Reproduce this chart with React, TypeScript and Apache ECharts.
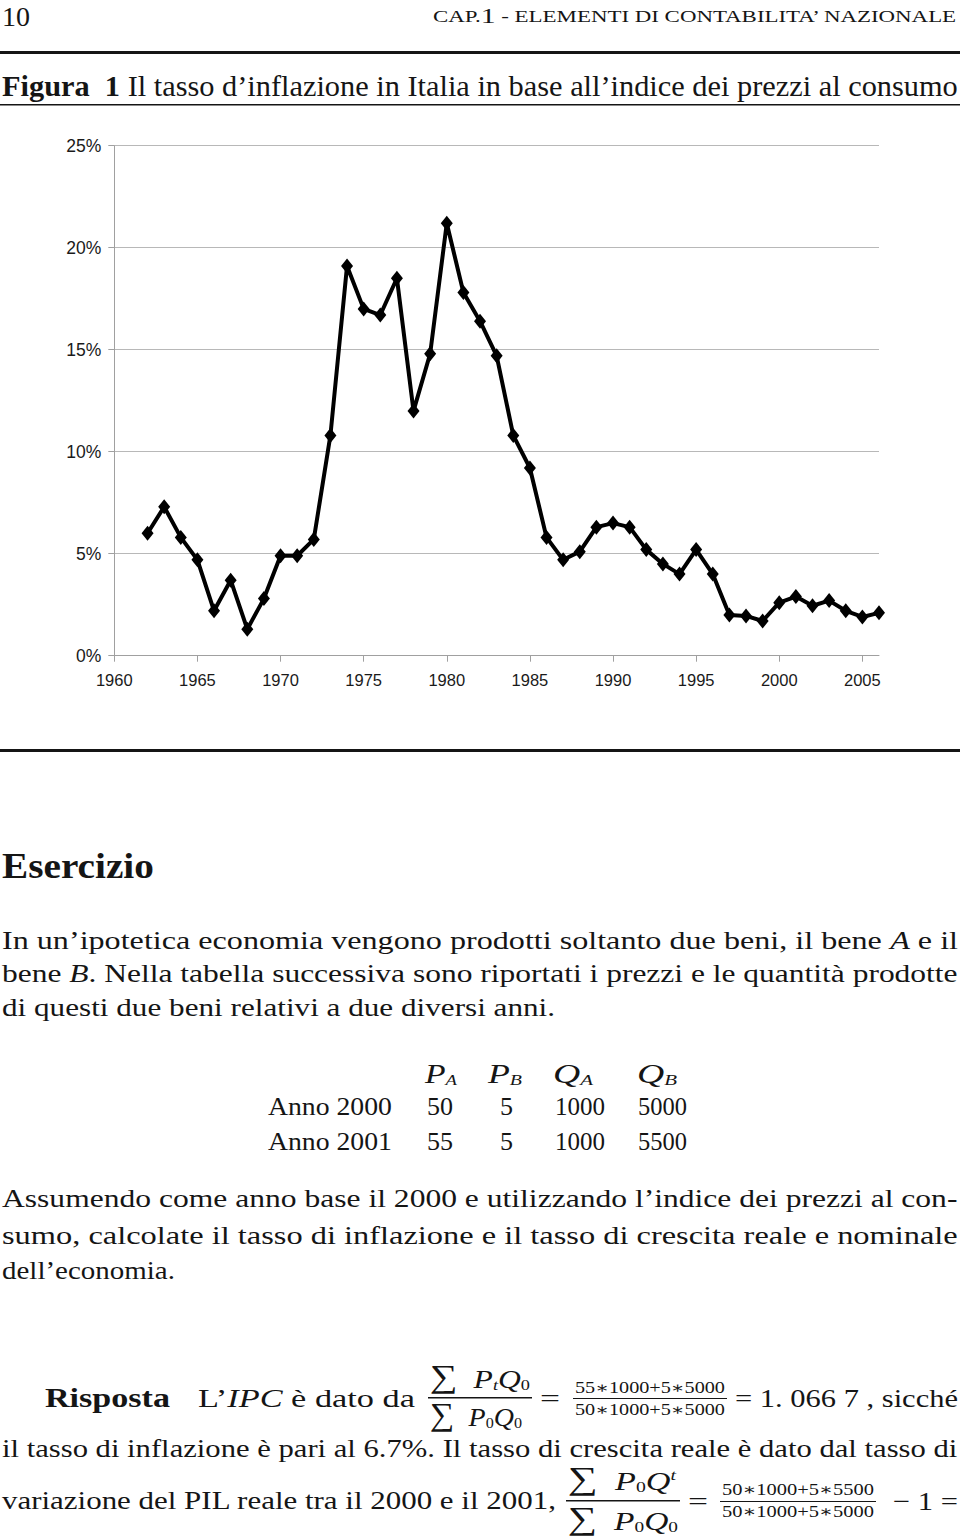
import React, { useEffect, useRef } from 'react';
import * as echarts from 'echarts';

const years = ['1960','1961','1962','1963','1964','1965','1966','1967','1968','1969','1970','1971','1972','1973','1974','1975','1976','1977','1978','1979','1980','1981','1982','1983','1984','1985','1986','1987','1988','1989','1990','1991','1992','1993','1994','1995','1996','1997','1998','1999','2000','2001','2002','2003','2004','2005','2006'];

const inflation: (number | null)[] = [null, null,
  6.0, 7.3, 5.8, 4.7, 2.2, 3.7, 1.3, 2.8, 4.9, 4.9,
  5.7, 10.8, 19.1, 17.0, 16.7, 18.5, 12.0, 14.8, 21.2, 17.8,
  16.4, 14.7, 10.8, 9.2, 5.8, 4.7, 5.1, 6.3, 6.5, 6.3,
  5.2, 4.5, 4.0, 5.2, 4.0, 2.0, 1.95, 1.7, 2.6, 2.9,
  2.45, 2.7, 2.2, 1.9, 2.1];

const yMin = 0;
const yMax = 25;
const yStep = 5;

const SERIF = '"Liberation Serif", "DejaVu Serif", serif';
const SANS = '"Liberation Sans", Arial, sans-serif';
const INK = '#151515';

type Seg = { t: string; b?: boolean; i?: boolean; s?: number; dy?: number };

let ctx: CanvasRenderingContext2D | null = null;
function measure(text: string, size: number, b?: boolean, i?: boolean) {
  if (!ctx) ctx = document.createElement('canvas').getContext('2d');
  if (!ctx) return text.length * size * 0.5;
  ctx.font = `${i ? 'italic ' : ''}${b ? 'bold ' : ''}${size}px ${SERIF}`;
  return ctx.measureText(text).width;
}

function line(x: number, y: number, size: number, segs: Seg[], width?: number): any {
  let cx = 0;
  const children: any[] = [];
  for (const s of segs) {
    const fs = s.s ?? size;
    const lead = s.t.length - s.t.replace(/^ +/, '').length;
    const trail = s.t.length - s.t.replace(/ +$/, '').length;
    const core = s.t.trim();
    const sp = measure(' ', fs, s.b, s.i);
    cx += lead * sp;
    if (core.length) {
      children.push({
        type: 'text',
        x: cx,
        y: s.dy ?? 0,
        style: {
          text: core,
          fontSize: fs,
          fontFamily: SERIF,
          fontWeight: s.b ? 'bold' : 'normal',
          fontStyle: s.i ? 'italic' : 'normal',
          fill: INK,
          align: 'left',
          verticalAlign: 'middle',
        },
      });
      cx += measure(core, fs, s.b, s.i);
    }
    cx += trail * sp;
  }
  const scaleX = width ? width / cx : 1;
  return { type: 'group', x, y, scaleX, children };
}

function rule(x: number, y: number, w: number, h: number): any {
  return { type: 'rect', shape: { x, y, width: w, height: h }, style: { fill: INK } };
}

function buildGraphics(): any[] {
  const g: any[] = [];
  // page header
  g.push(line(2, 16, 28, [{ t: '10' }], 28));
  g.push(line(433, 16, 17, [{ t: 'CAP.' }, { t: '1', s: 22 }, { t: ' - ELEMENTI DI CONTABILITA’ NAZIONALE' }], 525));
  g.push(rule(0, 51, 960, 3));
  g.push(line(2, 86, 30, [{ t: 'Figura  1', b: true }, { t: ' Il tasso d’inflazione in Italia in base all’indice dei prezzi al consumo' }], 956));
  g.push(rule(0, 104, 960, 1.5));
  // figure bottom rule
  g.push(rule(0, 749, 960, 3));
  // Esercizio
  g.push(line(2, 866, 35, [{ t: 'Esercizio', b: true }], 152));
  g.push(line(2, 940, 25, [{ t: 'In un’ipotetica economia vengono prodotti soltanto due beni, il bene ' }, { t: 'A', i: true }, { t: ' e il' }], 956));
  g.push(line(2, 974, 25, [{ t: 'bene ' }, { t: 'B', i: true }, { t: '. Nella tabella successiva sono riportati i prezzi e le quantità prodotte' }], 956));
  g.push(line(2, 1008, 25, [{ t: 'di questi due beni relativi a due diversi anni.' }], 553));
  // table
  const hy = 1074;
  g.push(line(425, hy, 27, [{ t: 'P', i: true }, { t: 'A', i: true, s: 15, dy: 6 }], 32));
  g.push(line(488, hy, 27, [{ t: 'P', i: true }, { t: 'B', i: true, s: 15, dy: 6 }], 34));
  g.push(line(553, hy, 27, [{ t: 'Q', i: true }, { t: 'A', i: true, s: 15, dy: 6 }], 40));
  g.push(line(637, hy, 27, [{ t: 'Q', i: true }, { t: 'B', i: true, s: 15, dy: 6 }], 40));
  const rows: [number, string[]][] = [
    [1106, ['Anno 2000', '50', '5', '1000', '5000']],
    [1141, ['Anno 2001', '55', '5', '1000', '5500']],
  ];
  const cols: [number, number][] = [[268, 124], [427, 26], [500, 13], [555, 50], [638, 49]];
  for (const [ry, cells] of rows) {
    cells.forEach((c, k) => g.push(line(cols[k][0], ry, 26, [{ t: c }], cols[k][1])));
  }
  // second paragraph
  g.push(line(2, 1199, 25, [{ t: 'Assumendo come anno base il 2000 e utilizzando l’indice dei prezzi al con-' }], 956));
  g.push(line(2, 1235, 25, [{ t: 'sumo, calcolate il tasso di inflazione e il tasso di crescita reale e nominale' }], 956));
  g.push(line(2, 1271, 25, [{ t: 'dell’economia.' }], 173));
  // Risposta
  const ry = 1398;
  g.push(line(45, ry, 27, [{ t: 'Risposta', b: true }], 125));
  g.push(line(198, ry, 26, [{ t: 'L’' }, { t: 'IPC', i: true }, { t: ' è dato da' }], 217));
  g.push(line(430, 1379, 26, [{ t: '∑', s: 32, dy: -3 }, { t: ' ' }, { t: 'P', i: true }, { t: 't', i: true, s: 15, dy: 6 }, { t: 'Q', i: true }, { t: '0', s: 15, dy: 6 }], 100));
  g.push(rule(428, 1397, 104, 1.5));
  g.push(line(430, 1417, 26, [{ t: '∑', s: 32, dy: -3 }, { t: ' ' }, { t: 'P', i: true }, { t: '0', s: 15, dy: 6 }, { t: 'Q', i: true }, { t: '0', s: 15, dy: 6 }], 92));
  g.push(line(540, ry, 26, [{ t: '=' }], 20));
  g.push(line(575, 1388, 16, [{ t: '55∗1000+5∗5000' }], 150));
  g.push(rule(573, 1398, 154, 1));
  g.push(line(575, 1410, 16, [{ t: '50∗1000+5∗5000' }], 150));
  g.push(line(735, ry, 26, [{ t: '= 1. 066 7 , sicché' }], 223));
  g.push(line(2, 1449, 25, [{ t: 'il tasso di inflazione è pari al 6.7%. Il tasso di crescita reale è dato dal tasso di' }], 956));
  // last line
  const ly = 1501;
  g.push(line(2, ly, 25, [{ t: 'variazione del PIL reale tra il 2000 e il 2001,' }], 555));
  g.push(line(568, 1481, 26, [{ t: '∑', s: 32, dy: -3 }, { t: ' ' }, { t: 'P', i: true }, { t: '0', s: 15, dy: 6 }, { t: 'Q', i: true }, { t: 't', i: true, s: 15, dy: -6 }], 108));
  g.push(rule(566, 1500, 114, 1.5));
  g.push(line(568, 1521, 26, [{ t: '∑', s: 32, dy: -3 }, { t: ' ' }, { t: 'P', i: true }, { t: '0', s: 15, dy: 6 }, { t: 'Q', i: true }, { t: '0', s: 15, dy: 6 }], 110));
  g.push(line(688, ly, 26, [{ t: '=' }], 20));
  g.push(line(722, 1490, 16, [{ t: '50∗1000+5∗5500' }], 152));
  g.push(rule(720, 1501, 156, 1));
  g.push(line(722, 1512, 16, [{ t: '50∗1000+5∗5000' }], 152));
  g.push(line(893, ly, 26, [{ t: '− 1 =' }], 65));
  return g;
}

export default function App() {
  const ref = useRef<HTMLDivElement>(null);
  useEffect(() => {
    if (!ref.current) return;
    document.body.style.overflow = 'hidden';
    const chart = echarts.init(ref.current, undefined, { renderer: 'svg' });
    chart.setOption({
      animation: false,
      backgroundColor: '#ffffff',
      grid: { left: 114.3, right: 81, top: 145.7, bottom: 881.3, containLabel: false },
      xAxis: {
        type: 'category',
        data: years,
        boundaryGap: false,
        axisLine: { show: true, lineStyle: { color: '#a0a0a0', width: 1 } },
        axisTick: { show: true, interval: 4, length: 6, lineStyle: { color: '#a0a0a0' } },
        axisLabel: { interval: 4, color: '#1a1a1a', fontFamily: SANS, fontSize: 16.5, margin: 16 },
        splitLine: { show: false },
      },
      yAxis: {
        type: 'value',
        min: yMin,
        max: yMax,
        interval: yStep,
        axisLine: { show: true, lineStyle: { color: '#a0a0a0', width: 1 } },
        axisTick: { show: true, length: 6, lineStyle: { color: '#a0a0a0' } },
        axisLabel: { formatter: '{value}%', color: '#1a1a1a', fontFamily: SANS, fontSize: 17.5, margin: 13 },
        splitLine: { show: true, lineStyle: { color: '#b8b8b8', width: 1 } },
      },
      series: [
        {
          type: 'line',
          data: inflation,
          connectNulls: false,
          symbol: 'diamond',
          symbolSize: [12, 15],
          showSymbol: true,
          showAllSymbol: true,
          lineStyle: { color: '#000', width: 4 },
          itemStyle: { color: '#000' },
        },
      ],
      graphic: buildGraphics(),
    });
    return () => chart.dispose();
  }, []);
  return (
    <div
      ref={ref}
      style={{ position: 'absolute', left: 0, top: 0, width: 960, height: 1537, background: '#fff' }}
    />
  );
}
